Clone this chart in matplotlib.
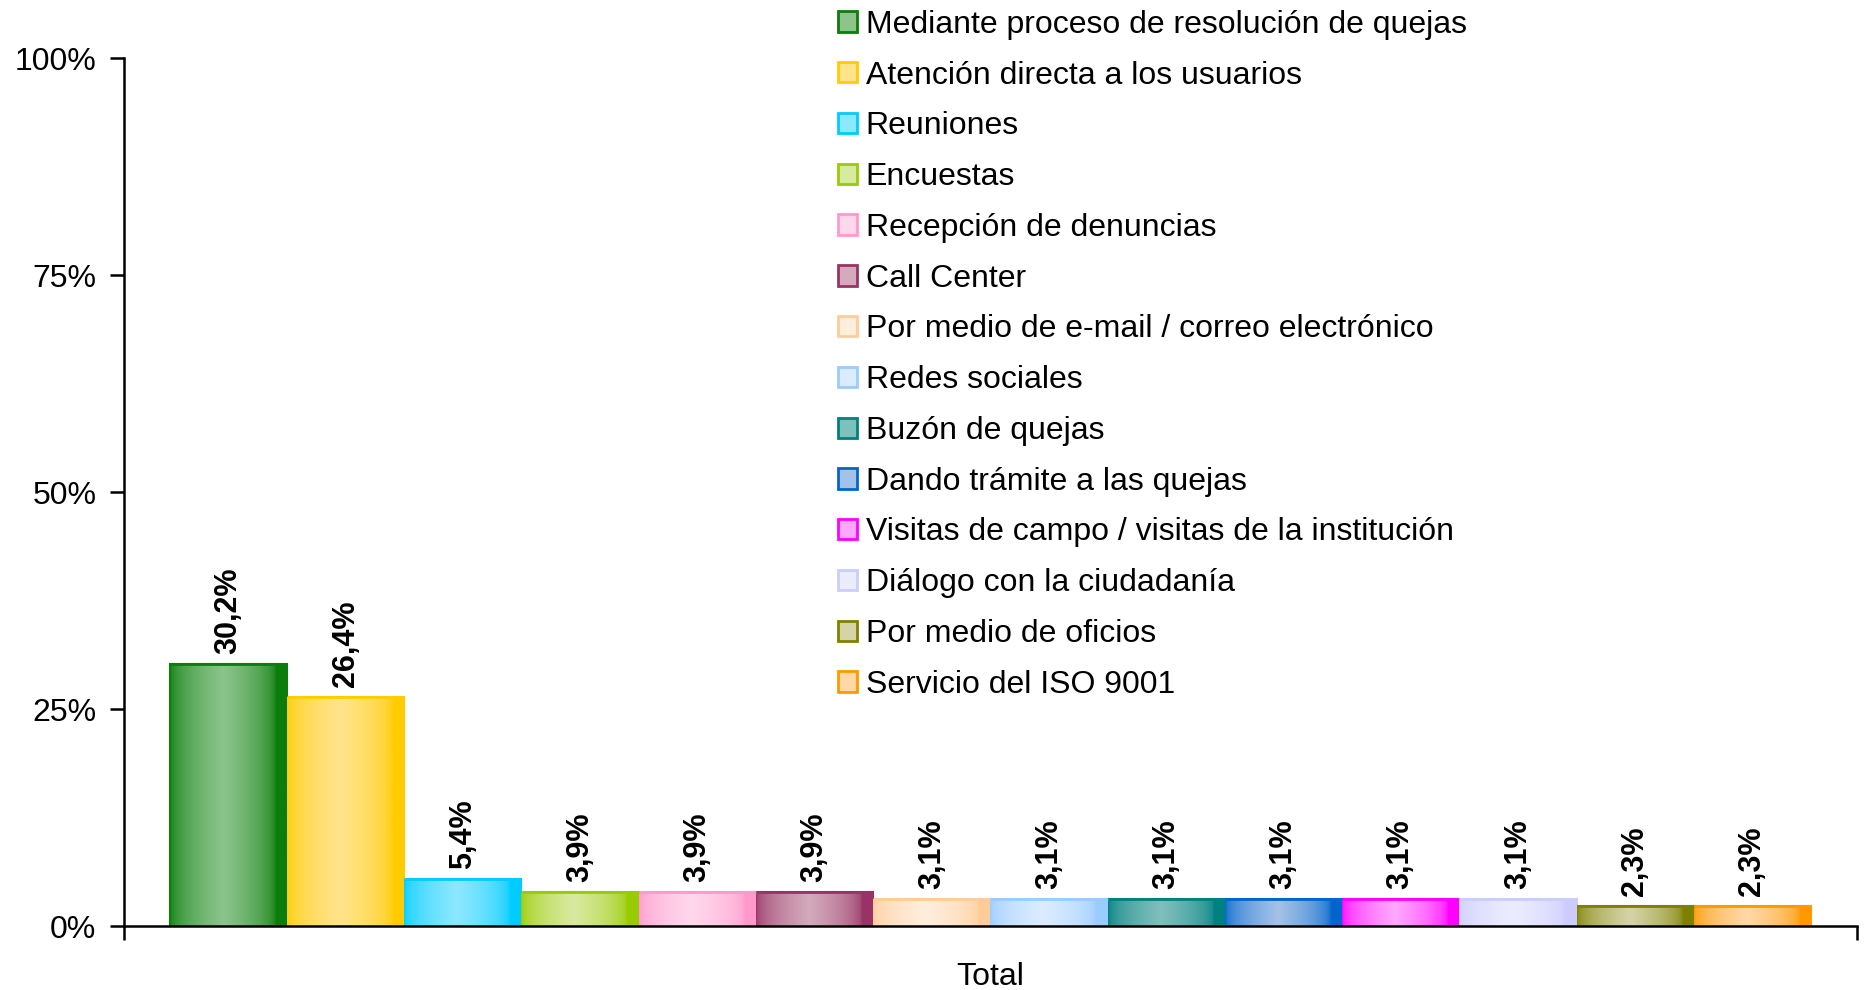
import numpy as np
import matplotlib
matplotlib.use("Agg")
import matplotlib.pyplot as plt
from matplotlib.patches import Patch
from matplotlib.colors import to_rgb

plt.rcParams['font.family'] = ['Liberation Sans', 'DejaVu Sans']

categories = [
    "Mediante proceso de resolución de quejas",
    "Atención directa a los usuarios",
    "Reuniones",
    "Encuestas",
    "Recepción de denuncias",
    "Call Center",
    "Por medio de e-mail / correo electrónico",
    "Redes sociales",
    "Buzón de quejas",
    "Dando trámite a las quejas",
    "Visitas de campo / visitas de la institución",
    "Diálogo con la ciudadanía",
    "Por medio de oficios",
    "Servicio del ISO 9001",
]
values = [30.2, 26.4, 5.4, 3.9, 3.9, 3.9, 3.1, 3.1, 3.1, 3.1, 3.1, 3.1, 2.3, 2.3]
dark_colors = ["#0b7d0b", "#ffcc00", "#00ccff", "#99cc00", "#ff99cc", "#993366", "#ffcc99",
               "#99ccff", "#008080", "#0066cc", "#ff00ff", "#ccccff", "#808000", "#ff9900"]
light_colors = ["#8cc48c", "#ffe48c", "#8ce8ff", "#d8eaa0", "#ffd8ec", "#d4aabc", "#ffeedd",
                "#dcecff", "#7fbfbc", "#a4c2e8", "#ffa8ff", "#ececff", "#d4d4a8", "#ffd8a8"]
yticks = [0, 25, 50, 75, 100]
xlabel = "Total"


def gradient(dark, light, n=200):
    # horizontal shading: dark at the edges, light a bit left of centre
    t = np.linspace(0, 1, n)
    f = np.clip(1 - np.abs(t - 0.45) / 0.45, 0, 1) ** 0.5
    d = np.array(to_rgb(dark))
    l = np.array(to_rgb(light))
    return (d[None, :] + (l - d)[None, :] * f[:, None])[None, :, :]


fig = plt.figure(figsize=(18.66, 9.9), dpi=100)
ax = fig.add_axes([0.0665, 0.0646, 0.9285, 0.8764])

x = np.arange(len(values))
bars = ax.bar(x, values, width=1.0, color=light_colors, edgecolor=dark_colors,
              linewidth=1.5, zorder=2)
for b, dc, lc in zip(bars, dark_colors, light_colors):
    x0, w, h = b.get_x(), b.get_width(), b.get_height()
    im = ax.imshow(gradient(dc, lc), extent=[x0, x0 + w, 0, h], aspect='auto',
                   zorder=2.5, interpolation='bilinear')
    im.set_clip_path(b)
    ax.plot([x0, x0 + w], [h, h], color=dc, lw=2, zorder=3, solid_capstyle='butt')

for b, v in zip(bars, values):
    ax.annotate(f"{v:.1f}%".replace('.', ','), (b.get_x() + b.get_width() / 2, v),
                xytext=(0, 7), textcoords='offset points', rotation=90,
                ha='center', va='bottom', fontsize=22, fontweight='bold')

margin = 0.39
ax.set_xlim(-0.5 - margin, len(values) - 0.5 + margin)
ax.set_ylim(0, 100)
ax.set_yticks(yticks)
ax.set_yticklabels([f"{t}%" for t in yticks], fontsize=23)
ax.set_xticks([-0.5 - margin, len(values) - 0.5 + margin])
ax.set_xticklabels([])
ax.set_xticks([(len(values) - 1) / 2], [xlabel], minor=True)
ax.tick_params(axis='x', which='minor', length=0, labelsize=23, pad=26)
ax.tick_params(axis='both', which='major', direction='out', length=10, width=1.8)
ax.tick_params(axis='y', pad=10)
for s in ['top', 'right']:
    ax.spines[s].set_visible(False)
for s in ['left', 'bottom']:
    ax.spines[s].set_linewidth(1.8)

handles = [Patch(facecolor=lc, edgecolor=dc, linewidth=2) for dc, lc in zip(dark_colors, light_colors)]
fig.legend(handles, categories, loc='upper left', bbox_to_anchor=(0.442, 1.003),
           frameon=False, fontsize=23, handlelength=0.6, handleheight=0.6,
           handletextpad=0.28, labelspacing=0.65, borderaxespad=0)

fig.savefig("out.png", dpi=100)
